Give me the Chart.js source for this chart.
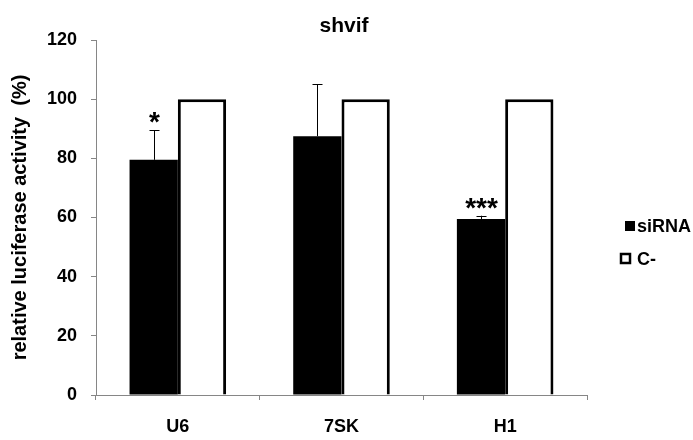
<!DOCTYPE html>
<html>
<head>
<meta charset="utf-8">
<script src="https://cdn.jsdelivr.net/npm/chart.js@4/dist/chart.umd.min.js"></script>
<style>
  html, body { margin: 0; padding: 0; background: #fff; }
  #wrap { width: 693px; height: 440px; }
</style>
</head>
<body>
<div id="wrap"><canvas id="chart" width="693" height="440"></canvas></div>
<script>
const categories = ['U6', '7SK', 'H1'];
const siRNA = [79.5, 87.5, 59.5];
const siRNAErr = [10, 17.5, 1.1];
const control = [100, 100, 100];
const stars = ['*', '', '***'];
const seriesNames = ['siRNA', 'C-'];

const FONT = '"Liberation Sans", Arial, sans-serif';

// error bars (upper only), significance stars, title and legend
const extras = {
  id: 'extras',
  afterDatasetsDraw(chart) {
    const ctx = chart.ctx;
    const y = chart.scales.y;
    const meta = chart.getDatasetMeta(0);
    ctx.save();
    ctx.strokeStyle = '#000';
    ctx.lineWidth = 1;
    meta.data.forEach((bar, i) => {
      const top = y.getPixelForValue(siRNA[i] + siRNAErr[i]);
      const x = Math.round(bar.x) + 0.5;
      ctx.beginPath();
      ctx.moveTo(x, bar.y);
      ctx.lineTo(x, top);
      ctx.moveTo(x - 5, Math.round(top) + 0.5);
      ctx.lineTo(x + 5, Math.round(top) + 0.5);
      ctx.stroke();
      if (stars[i]) {
        ctx.fillStyle = '#000';
        ctx.font = 'bold 28px ' + FONT;
        ctx.textAlign = 'center';
        ctx.textBaseline = 'alphabetic';
        ctx.fillText(stars[i], x, top + 1);
      }
    });

    // title
    ctx.fillStyle = '#000';
    ctx.font = 'bold 21px ' + FONT;
    ctx.textAlign = 'center';
    ctx.textBaseline = 'alphabetic';
    ctx.fillText('shvif', 344, 32);

    // legend
    ctx.font = 'bold 18px ' + FONT;
    ctx.textAlign = 'left';
    ctx.textBaseline = 'middle';
    ctx.fillRect(625, 221, 10, 10);
    ctx.fillText(seriesNames[0], 637, 227);
    ctx.lineWidth = 2.5;
    ctx.strokeRect(621, 254, 9, 9);
    ctx.fillText(seriesNames[1], 637, 260);
    ctx.restore();
  }
};

new Chart(document.getElementById('chart'), {
  type: 'bar',
  data: {
    labels: categories,
    datasets: [
      {
        label: seriesNames[0],
        data: siRNA,
        backgroundColor: '#000',
        borderColor: '#000',
        borderWidth: 0
      },
      {
        label: seriesNames[1],
        data: control,
        backgroundColor: '#fff',
        borderColor: '#000',
        borderWidth: 3,
        borderSkipped: 'bottom'
      }
    ]
  },
  options: {
    responsive: false,
    animation: false,
    layout: { padding: { left: 0, right: 106, top: 40, bottom: 0 } },
    datasets: {
      bar: { categoryPercentage: 0.59, barPercentage: 1 }
    },
    plugins: {
      legend: { display: false },
      title: { display: false },
      tooltip: { enabled: false }
    },
    scales: {
      y: {
        min: 0,
        max: 120,
        ticks: {
          stepSize: 20,
          color: '#000',
          font: { family: FONT, size: 18, weight: 'bold' },
          padding: 14
        },
        grid: {
          display: true,
          drawOnChartArea: false,
          drawTicks: true,
          tickLength: 5,
          color: '#868686'
        },
        border: { display: true, color: '#868686', width: 1 },
        title: {
          display: true,
          text: 'relative luciferase activity  (%)',
          color: '#000',
          font: { family: FONT, size: 20, weight: 'bold' },
          padding: { top: 8, bottom: 0 }
        },
        afterFit(scale) { scale.width = 96; }
      },
      x: {
        ticks: {
          color: '#000',
          font: { family: FONT, size: 18, weight: 'bold' },
          padding: 16
        },
        grid: {
          display: true,
          offset: true,
          drawOnChartArea: false,
          drawTicks: true,
          tickLength: 5,
          color: '#868686'
        },
        border: { display: true, color: '#868686', width: 1 },
        afterFit(scale) { scale.height = 45; }
      }
    }
  },
  plugins: [extras]
});
</script>
</body>
</html>
